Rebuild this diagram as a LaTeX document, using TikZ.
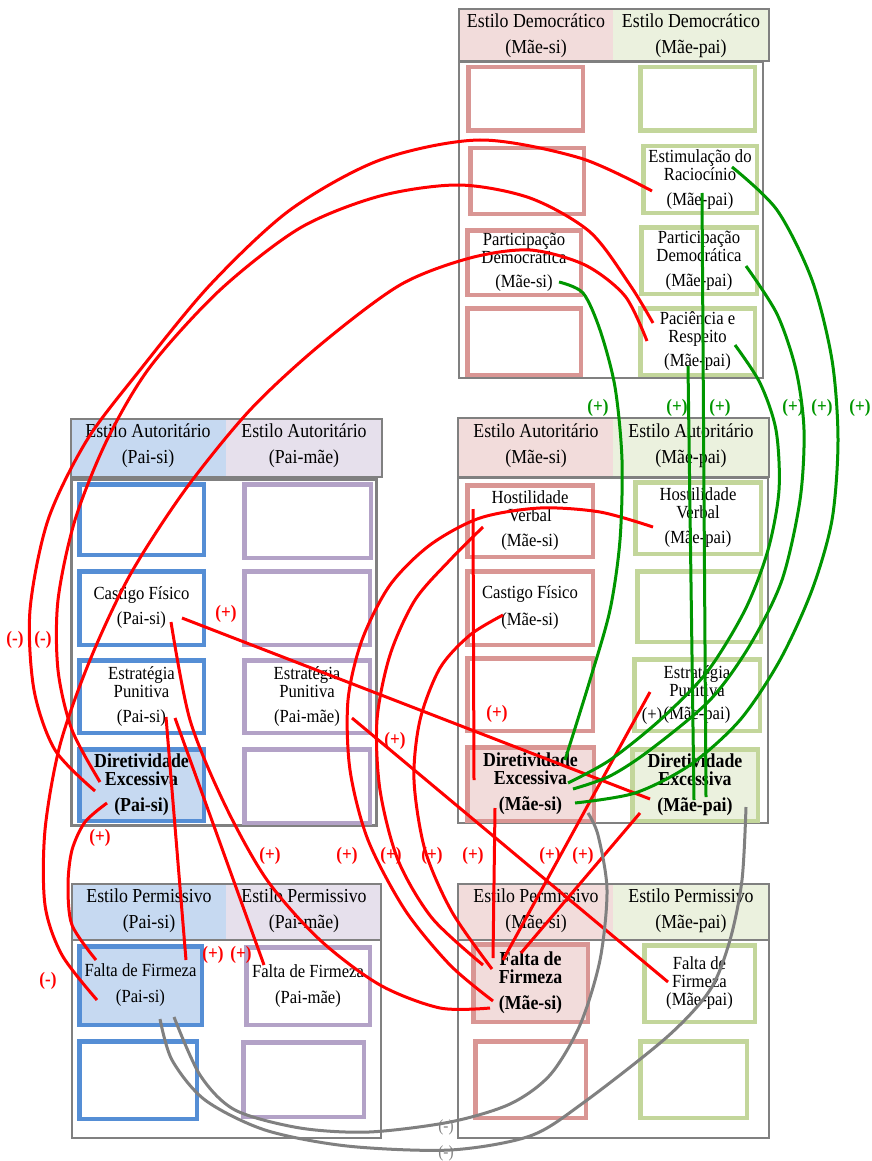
\documentclass[tikz,border=0pt]{standalone}
\usepackage{fontspec}
\setmainfont{Liberation Serif}[FakeStretch=0.9]

\definecolor{pinkF}{HTML}{F2DCDB}
\definecolor{pinkB}{HTML}{D99694}
\definecolor{greenF}{HTML}{EBF1DE}
\definecolor{greenB}{HTML}{C3D69B}
\definecolor{blueF}{HTML}{C6D9F1}
\definecolor{blueB}{HTML}{558ED5}
\definecolor{lavF}{HTML}{E6E0EC}
\definecolor{lavB}{HTML}{B3A2C7}
\definecolor{frameG}{HTML}{808080}
\definecolor{linkR}{HTML}{FF0000}
\definecolor{linkG}{RGB}{0,150,0}
\definecolor{linkY}{HTML}{808080}

\newcommand\cellfont{\fontsize{18.5}{18}\selectfont}
\newcommand\boldfont{\fontsize{19.8}{18}\selectfont\bfseries}
\newcommand\headfont{\fontsize{19.8}{26}\selectfont}
\newcommand\signfont{\fontsize{19}{19}\selectfont}

% one coloured cell: style, name, x1, y1, x2, y2, text
\newcommand\mkcell[7]{%
  \node[#1, minimum width={#5-#3-4.5}, minimum height={#6-#4-4.5}]
    (#2) at ({(#3+#5)/2},{(#4+#6)/2}) {#7};}

\tikzset{
  cell/.style={draw=#1, line width=4.5pt, inner sep=0pt, align=center, font=\cellfont},
  pinkcell/.style={cell=pinkB},
  greencell/.style={cell=greenB},
  bluecell/.style={cell=blueB},
  lavcell/.style={cell=lavB},
  boldcell/.style={font=\boldfont},
  frame/.style={draw=frameG, line width=2pt},
  headtxt/.style={align=center, font=\headfont, inner sep=0pt},
  redlink/.style={draw=linkR, line width=3pt},
  greenlink/.style={draw=linkG, line width=3pt},
  graylink/.style={draw=linkY, line width=3pt},
  redsign/.style={text=linkR, font=\signfont\bfseries, inner sep=0pt},
  greensign/.style={text=linkG, font=\signfont\bfseries, inner sep=0pt},
  graysign/.style={text=linkY, font=\fontsize{17}{17}\selectfont, inner sep=0pt},
  blacksign/.style={text=black, font=\cellfont, inner sep=0pt},
}

\begin{document}
\begin{tikzpicture}[x=1pt,y=-1pt]
\useasboundingbox (0,0) rectangle (872,1161);
\fill[white] (0,0) rectangle (872,1161);

% ---------- block frames and headers ----------
% Democratic style (mother)
\fill[pinkF] (459,9) rectangle (613,61);
\fill[greenF] (613,9) rectangle (769,61);
\draw[frame] (459,9) rectangle (769,61);
\draw[frame, line width=2.5pt] (459,62) rectangle (763,378);
\node[headtxt] (hDemSi) at (536,36) {Estilo Democrático\\(Mãe-si)};
\node[headtxt] (hDemPai) at (691,36) {Estilo Democrático\\(Mãe-pai)};

% Authoritarian style (father)
\fill[blueF] (71,419) rectangle (226,477);
\fill[lavF] (226,419) rectangle (382,477);
\draw[frame] (71,419) rectangle (382,477);
\draw[frame, line width=3pt] (71,479) rectangle (376,825);
\node[headtxt] (hAutPs) at (148,446) {Estilo Autoritário\\(Pai-si)};
\node[headtxt] (hAutPm) at (304,446) {Estilo Autoritário\\(Pai-mãe)};

% Authoritarian style (mother)
\fill[pinkF] (458,418) rectangle (613,477);
\fill[greenF] (613,418) rectangle (769,477);
\draw[frame] (458,418) rectangle (769,477);
\draw[frame, line width=2.5pt] (458,478) rectangle (768,823);
\node[headtxt] (hAutMs) at (536,446) {Estilo Autoritário\\(Mãe-si)};
\node[headtxt] (hAutMp) at (691,446) {Estilo Autoritário\\(Mãe-pai)};

% Permissive style (father)
\fill[blueF] (72,884) rectangle (226,940);
\fill[lavF] (226,884) rectangle (381,940);
\draw[frame] (72,884) rectangle (381,940);
\draw[frame] (72,940) rectangle (381,1138);
\node[headtxt] (hPerPs) at (149,911) {Estilo Permissivo\\(Pai-si)};
\node[headtxt] (hPerPm) at (304,911) {Estilo Permissivo\\(Pai-mãe)};

% Permissive style (mother)
\fill[pinkF] (458,884) rectangle (613,940);
\fill[greenF] (613,884) rectangle (769,940);
\draw[frame] (458,884) rectangle (769,940);
\draw[frame] (458,940) rectangle (769,1138);
\node[headtxt] (hPerMs) at (536,911) {Estilo Permissivo\\(Mãe-si)};
\node[headtxt] (hPerMp) at (691,911) {Estilo Permissivo\\(Mãe-pai)};

% ---------- cells ----------
\mkcell{pinkcell}{dSi1}{466}{65}{585}{133}{}
\mkcell{pinkcell}{dSi2}{468}{146}{586}{216}{}
\mkcell{pinkcell}{dPartSi}{465}{228}{583}{297}{Participação\\Democrática\\[6pt](Mãe-si)}
\mkcell{pinkcell}{dSi4}{465}{306}{583}{377}{}
\mkcell{greencell}{dPai1}{638}{65}{757}{133}{}
\mkcell{greencell}{dEstim}{641}{144}{759}{215}{Estimulação do\\Raciocínio\\[7pt](Mãe-pai)}
\mkcell{greencell}{dPartPai}{639}{225}{759}{296}{Participação\\Democrática\\[7pt](Mãe-pai)}
\mkcell{greencell}{dPac}{638}{306}{757}{377}{Paciência e\\Respeito\\[6pt](Mãe-pai)}

\mkcell{bluecell}{aPs1}{77}{482}{206}{557}{}
\mkcell{bluecell}{aCastPs}{77}{569}{206}{647}{Castigo Físico\\[7pt](Pai-si)}
\mkcell{bluecell}{aEstrPs}{77}{658}{206}{735}{Estratégia\\Punitiva\\[7pt](Pai-si)}
\mkcell{bluecell, fill=blueF, boldcell}{aDirPs}{77}{747}{206}{823}{Diretividade\\Excessiva\\[8pt](Pai-si)}
\mkcell{lavcell}{aPm1}{242}{482}{373}{560}{}
\mkcell{lavcell}{aPm2}{242}{569}{372}{647}{}
\mkcell{lavcell}{aEstrPm}{242}{658}{372}{735}{Estratégia\\Punitiva\\[7pt](Pai-mãe)}
\mkcell{lavcell}{aPm4}{242}{747}{372}{825}{}

\mkcell{pinkcell}{aHostMs}{465}{483}{595}{559}{Hostilidade\\Verbal\\[7pt](Mãe-si)}
\mkcell{pinkcell}{aCastMs}{465}{569}{595}{647}{Castigo Físico\\[9pt](Mãe-si)}
\mkcell{pinkcell}{aMs3}{465}{656}{595}{733}{}
\mkcell{pinkcell, fill=pinkF, boldcell}{aDirMs}{465}{745}{596}{823}{Diretividade\\Excessiva\\[8pt](Mãe-si)}
\mkcell{greencell}{aHostMp}{633}{480}{763}{556}{Hostilidade\\Verbal\\[7pt](Mãe-pai)}
\mkcell{greencell}{aMp2}{635}{569}{763}{644}{}
\mkcell{greencell}{aEstrMp}{632}{657}{762}{733}{Estratégia\\Punitiva\\[5pt](Mãe-pai)}
\mkcell{greencell, fill=greenF, boldcell}{aDirMp}{630}{747}{760}{823}{Diretividade\\Excessiva\\[8pt](Mãe-pai)}
\node[blacksign] (sEstrMp) at (652,716) {(+)};

\mkcell{bluecell, fill=blueF}{pFaltaPs}{77}{944}{204}{1027}{Falta de Firmeza\\[8pt](Pai-si)}
\mkcell{bluecell}{pPs2}{77}{1039}{199}{1121}{}
\mkcell{lavcell}{pFaltaPm}{244}{945}{372}{1027}{Falta de Firmeza\\[8pt](Pai-mãe)}
\mkcell{lavcell}{pPm2}{241}{1040}{366}{1119}{}
\mkcell{pinkcell, fill=pinkF, boldcell}{pFaltaMs}{471}{942}{590}{1024}{Falta de\\Firmeza\\[8pt](Mãe-si)}
\mkcell{pinkcell}{pMs2}{473}{1039}{588}{1120}{}
\mkcell{greencell}{pFaltaMp}{642}{943}{757}{1024}{Falta de\\Firmeza\\(Mãe-pai)}
\mkcell{greencell}{pMp2}{638}{1039}{749}{1120}{}

% ---------- connector end points ----------
\coordinate (rEstim) at (652,191);
\coordinate (rPacA) at (653,323);
\coordinate (rPacB) at (647,341);
\coordinate (rDirPsA) at (95,791);
\coordinate (rDirPsB) at (100,782);
\coordinate (rDirPsC) at (107,803);
\coordinate (rFaltaPsA) at (97,1000);
\coordinate (rFaltaPsB) at (96,960);
\coordinate (rFaltaPsC) at (186,960);
\coordinate (rCastPsA) at (182,618);
\coordinate (rCastPsB) at (171,622);
\coordinate (rEstrPsA) at (166,717);
\coordinate (rEstrPsB) at (175,718);
\coordinate (rFaltaPm) at (264,965);
\coordinate (rEstrPm) at (352,718);
\coordinate (rFaltaMp) at (668,982);
\coordinate (rDirMpA) at (650,799);
\coordinate (rHostMp) at (653,527);
\coordinate (rHostMsA) at (483,527);
\coordinate (rHostMsB) at (473,509);
\coordinate (rCastMs) at (503,615);
\coordinate (rDirMsA) at (474,780);
\coordinate (rDirMsB) at (495,808);
\coordinate (rEstrMp) at (650,692);
\coordinate (rDirMpB) at (640,813);
\coordinate (rFaltaMsA) at (490,1008);
\coordinate (rFaltaMsB) at (493,1001);
\coordinate (rFaltaMsC) at (483,965);
\coordinate (rFaltaMsD) at (492,969);
\coordinate (rFaltaMsE) at (493,958);
\coordinate (rFaltaMsF) at (503,960);
\coordinate (rFaltaMsG) at (521,953);

\coordinate (gPartSi) at (559,282);
\coordinate (gDirMsA) at (565,760);
\coordinate (gEstimA) at (702,193);
\coordinate (gEstimB) at (732,167);
\coordinate (gPacA) at (688,366);
\coordinate (gPacB) at (735,345);
\coordinate (gPartPai) at (746,266);
\coordinate (gDirMpA) at (694,800);
\coordinate (gDirMpB) at (706,797);
\coordinate (gDirMsB) at (568,783);
\coordinate (gDirMsC) at (573,789);
\coordinate (gDirMsD) at (575,803);

\coordinate (yFaltaPsA) at (174,1017);
\coordinate (yFaltaPsB) at (160,1019);
\coordinate (yDirMs) at (588,813);
\coordinate (yDirMp) at (746,807);

% ---------- red links ----------
\draw[redlink] plot[smooth] coordinates {(rEstim) (580,158) (480,140) (380,160) (290,210) (210,285) (140,370) (87,440) (48,520) (30,610) (34,690) (55,750) (rDirPsA)};
\draw[redlink] plot[smooth] coordinates {(rPacA) (630,285) (590,232) (530,198) (459,185) (380,196) (300,228) (220,290) (150,367) (107,440) (75,520) (58,600) (58,670) (72,730) (rDirPsB)};
\draw[redlink] plot[smooth] coordinates {(rPacB) (625,296) (585,265) (530,250) (470,258) (400,285) (320,345) (250,410) (185,490) (130,575) (90,660) (60,745) (45,830) (45,905) (62,955) (rFaltaPsA)};
\draw[redlink] plot[smooth] coordinates {(rDirPsC) (85,822) (72,850) (68,885) (72,925) (rFaltaPsB)};
\draw[redlink] (rCastPsA) -- (rDirMpA);
\draw[redlink] plot[smooth] coordinates {(rCastPsB) (190,720) (225,805) (267,880) (320,940) (380,985) (440,1008) (rFaltaMsA)};
\draw[redlink] (rEstrPsA) -- (rFaltaPsC);
\draw[redlink] (rEstrPsB) -- (rFaltaPm);
\draw[redlink] (rEstrPm) -- (rFaltaMp);
\draw[redlink] plot[smooth] coordinates {(rHostMp) (600,512) (540,508) (480,518) (430,545) (390,585) (362,640) (348,700) (350,770) (368,840) (405,910) (450,965) (rFaltaMsB)};
\draw[redlink] plot[smooth] coordinates {(rHostMsA) (450,560) (415,600) (390,655) (377,720) (380,790) (398,860) (432,918) (rFaltaMsC)};
\draw[redlink] plot[smooth] coordinates {(rCastMs) (470,635) (440,668) (420,720) (414,780) (425,850) (452,912) (rFaltaMsD)};
\draw[redlink] (rHostMsB) -- (rDirMsA);
\draw[redlink] (rDirMsB) -- (rFaltaMsE);
\draw[redlink] (rEstrMp) -- (rFaltaMsF);
\draw[redlink] (rDirMpB) -- (rFaltaMsG);

% ---------- green links ----------
\draw[greenlink] plot[smooth] coordinates {(gPartSi) (583,293) (600,330) (615,387) (622,460) (620,540) (610,610) (590,680) (gDirMsA)};
\draw[greenlink] (gEstimA) -- (gDirMpB);
\draw[greenlink] (gPacA) -- (gDirMpA);
\draw[greenlink] plot[smooth] coordinates {(gEstimB) (777,210) (812,280) (832,360) (838,440) (832,520) (812,590) (780,660) (740,720) (690,765) (635,793) (gDirMsD)};
\draw[greenlink] plot[smooth] coordinates {(gPartPai) (777,314) (796,370) (804,430) (800,500) (782,580) (750,645) (710,700) (650,750) (610,776) (gDirMsC)};
\draw[greenlink] plot[smooth] coordinates {(gPacB) (760,383) (776,430) (779,490) (768,550) (745,610) (707,672) (660,720) (610,760) (gDirMsB)};

% ---------- grey links ----------
\draw[graylink] plot[smooth] coordinates {(yFaltaPsA) (200,1075) (235,1110) (300,1128) (369,1132) (450,1122) (510,1104) (550,1075) (580,1025) (600,960) (607,890) (598,835) (yDirMs)};
\draw[graylink] plot[smooth] coordinates {(yFaltaPsB) (172,1060) (205,1100) (265,1130) (347,1146) (450,1150) (530,1136) (583,1103) (667,1037) (710,990) (730,940) (742,880) (yDirMp)};

% ---------- signs ----------
\node[redsign] (sR1) at (15,640) {(-)};
\node[redsign] (sR2) at (43,640) {(-)};
\node[redsign] (sR3) at (48,981) {(-)};
\node[redsign] (sR4) at (100,838) {(+)};
\node[redsign] (sR5) at (226,614) {(+)};
\node[redsign] (sR6) at (395,741) {(+)};
\node[redsign] (sR7) at (497,714) {(+)};
\node[redsign] (sR8) at (270,856) {(+)};
\node[redsign] (sR9) at (347,856) {(+)};
\node[redsign] (sR10) at (391,856) {(+)};
\node[redsign] (sR11) at (432,856) {(+)};
\node[redsign] (sR12) at (473,856) {(+)};
\node[redsign] (sR13) at (550,856) {(+)};
\node[redsign] (sR14) at (583,856) {(+)};
\node[redsign] (sR15) at (213,955) {(+)};
\node[redsign] (sR16) at (241,955) {(+)};

\node[greensign] (sG1) at (598,408) {(+)};
\node[greensign] (sG2) at (677,408) {(+)};
\node[greensign] (sG3) at (720,408) {(+)};
\node[greensign] (sG4) at (793,408) {(+)};
\node[greensign] (sG5) at (822,408) {(+)};
\node[greensign] (sG6) at (860,408) {(+)};

\node[graysign] (sY1) at (446,1127) {(-)};
\node[graysign] (sY2) at (446,1153) {(-)};
\end{tikzpicture}
\end{document}
